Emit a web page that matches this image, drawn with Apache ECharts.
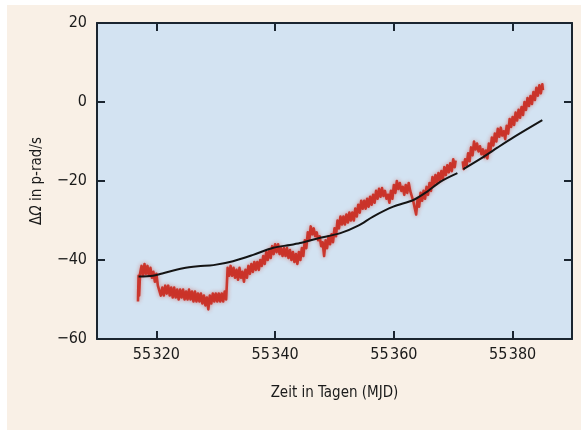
<!DOCTYPE html>
<html>
<head>
<meta charset="utf-8">
<script src="https://cdn.jsdelivr.net/npm/echarts@6/dist/echarts.min.js"></script>
<style>
html,body{margin:0;padding:0;background:#ffffff;}
#chart{width:581px;height:432px;}
</style>
</head>
<body>
<div id="chart"></div>
<script>
// ---- data ----
var xTicks = [55320, 55340, 55360, 55380];
var yTicks = [-60, -40, -20, 0, 20];
var xName = 'Zeit in Tagen (MJD)';
var yNameParts = ['Δ', 'Ω', ' in p-rad/s'];

// measured (noisy) rotation signal, [MJD, ΔΩ]
var redData = [
[55316.9,-50.5],[55317.0,-44],[55317.1,-49],[55317.25,-43.5],[55317.5,-41.5],[55317.75,-44],[55318.0,-41],[55318.25,-43.5],[55318.5,-41.5],[55318.75,-44],
[55319.0,-42],[55319.25,-44.5],[55319.5,-43],[55319.75,-45.5],[55320.0,-43.5],[55320.25,-46.5],[55320.5,-46],[55320.75,-49],[55321.0,-47],[55321.25,-49],
[55321.5,-46.5],[55321.75,-48.5],[55322.0,-46.5],[55322.25,-49],[55322.5,-47],[55322.75,-49.5],[55323.0,-47],[55323.25,-49.5],[55323.5,-47.5],[55323.75,-50],
[55324.0,-47.5],[55324.25,-49.5],[55324.5,-47.5],[55324.75,-50],[55325.0,-48],[55325.25,-50],[55325.5,-47.5],[55325.75,-50],[55326.0,-48],[55326.25,-50.5],
[55326.5,-48],[55326.75,-50.5],[55327.0,-48.5],[55327.25,-50.5],[55327.5,-48.5],[55327.75,-51],[55328.0,-49],[55328.25,-51.5],[55328.5,-49.5],[55328.75,-52.5],
[55329.0,-49],[55329.25,-51],[55329.5,-48.5],[55329.75,-50.5],[55330.0,-48.5],[55330.25,-50.5],[55330.5,-48.5],[55330.75,-50.5],[55331.0,-48.5],[55331.25,-50.5],
[55331.5,-48],[55331.75,-50],[55332.0,-42],[55332.25,-44],[55332.5,-41.5],[55332.75,-44],[55333.0,-42],[55333.25,-44.5],[55333.5,-42.5],[55333.75,-45],
[55334.0,-42],[55334.25,-44.5],[55334.5,-43],[55334.75,-45.5],[55335.0,-42.5],[55335.25,-44.5],[55335.5,-41.5],[55335.75,-43.5],[55336.0,-41],[55336.25,-43],
[55336.5,-40.5],[55336.75,-42.5],[55337.0,-40.5],[55337.25,-42.5],[55337.5,-40],[55337.75,-41.5],[55338.0,-39],[55338.25,-41],[55338.5,-38],[55338.75,-40],
[55339.0,-37.5],[55339.25,-39.5],[55339.5,-36.5],[55339.75,-38.5],[55340.0,-36],[55340.25,-38],[55340.5,-36],[55340.75,-38.5],[55341.0,-37],[55341.25,-39],
[55341.5,-37],[55341.75,-39],[55342.0,-37],[55342.25,-39.5],[55342.5,-37.5],[55342.75,-40],[55343.0,-38],[55343.25,-40.5],[55343.5,-38.5],[55343.75,-41],
[55344.0,-38],[55344.25,-40],[55344.5,-37],[55344.75,-39],[55345.0,-35],[55345.25,-37],[55345.5,-33],[55345.75,-35],[55346.0,-31.5],[55346.25,-33.5],
[55346.5,-32],[55346.75,-34],[55347.0,-33],[55347.25,-35],[55347.5,-34],[55347.75,-36.5],[55348.0,-35.5],[55348.25,-39],[55348.5,-35],[55348.75,-37],
[55349.0,-34],[55349.25,-36],[55349.5,-33.5],[55349.75,-35.5],[55350.0,-32],[55350.25,-34],[55350.5,-30],[55350.75,-32],[55351.0,-29],[55351.25,-31],
[55351.5,-29],[55351.75,-31],[55352.0,-28.5],[55352.25,-30.5],[55352.5,-28],[55352.75,-30],[55353.0,-28],[55353.25,-30],[55353.5,-27],[55353.75,-29],
[55354.0,-26],[55354.25,-28],[55354.5,-25],[55354.75,-27],[55355.0,-25],[55355.25,-27],[55355.5,-24.5],[55355.75,-26.5],[55356.0,-24],[55356.25,-26],
[55356.5,-23.5],[55356.75,-25.5],[55357.0,-22.5],[55357.25,-24.5],[55357.5,-22],[55357.75,-24],[55358.0,-21.8],[55358.25,-23.8],[55358.5,-22.5],[55358.75,-24.5],
[55359.0,-23.5],[55359.25,-25.5],[55359.5,-22.5],[55359.75,-24.5],[55360.0,-21],[55360.25,-23],[55360.5,-20],[55360.75,-22],[55361.0,-20.5],[55361.25,-22.5],
[55361.5,-21.5],[55361.75,-23.5],[55362.0,-21],[55362.25,-23],[55362.5,-20.5],[55362.75,-22.5],[55363.0,-22],[55363.25,-25],[55363.5,-25],[55363.75,-28.5],
[55364.0,-24.5],[55364.25,-26.5],[55364.5,-23],[55364.75,-25],[55365.0,-22.5],[55365.25,-24.5],[55365.5,-21.5],[55365.75,-23.5],[55366.0,-20.5],[55366.25,-22.5],
[55366.5,-19],[55366.75,-21],[55367.0,-18.5],[55367.25,-20.5],[55367.5,-18],[55367.75,-20],[55368.0,-17.5],[55368.25,-19.5],[55368.5,-16.5],[55368.75,-18.5],
[55369.0,-16],[55369.25,-17.8],[55369.5,-15.5],[55369.75,-17.5],[55370.0,-14.5],[55370.25,-16.5],[55370.4,-14.8],
[55371.0,'-'],
[55371.6,-15],[55371.75,-17],[55372.0,-14.5],[55372.25,-16],[55372.5,-13],[55372.75,-15],[55373.0,-11.5],[55373.25,-13.5],[55373.5,-10],[55373.75,-12],
[55374.0,-10.5],[55374.25,-12.5],[55374.5,-11.2],[55374.75,-13.2],[55375.0,-12],[55375.25,-14],[55375.5,-12.3],[55375.75,-14.3],[55376.0,-10.5],[55376.25,-12.5],
[55376.5,-9],[55376.75,-11],[55377.0,-8],[55377.25,-10],[55377.5,-6.8],[55377.75,-8.8],[55378.0,-6.5],[55378.25,-8.5],[55378.5,-7.4],[55378.75,-9.4],
[55379.0,-6],[55379.25,-8],[55379.5,-4.3],[55379.75,-6.3],[55380.0,-3.8],[55380.25,-5.8],[55380.5,-2.7],[55380.75,-4.7],[55381.0,-2],[55381.25,-4],
[55381.5,-1.3],[55381.75,-3.3],[55382.0,0],[55382.25,-2],[55382.5,1],[55382.75,-1],[55383.0,1.5],[55383.25,-0.5],[55383.5,2.5],[55383.75,0.5],
[55384.0,3.6],[55384.25,1.6],[55384.5,4.2],[55384.75,2.2],[55385.0,4.5],[55385.1,3]
];

// model curve, [MJD, ΔΩ]
var blackData = [
[55317.0,-44.2],[55319.4,-44.0],[55321.0,-43.4],[55324.5,-42.1],[55327.0,-41.6],[55329.6,-41.3],[55332.9,-40.3],[55336.3,-38.7],
[55339.7,-36.9],[55342.5,-36.2],[55344.2,-35.7],[55347.0,-34.6],[55351.0,-33.2],[55354.0,-31.3],[55356.5,-29.0],[55359.9,-26.5],
[55363.3,-24.8],[55365.5,-22.8],[55367.8,-20.2],[55370.7,-18.0],[55371.2,'-'],[55371.7,-17.0],[55375.1,-13.9],[55377.5,-11.5],
[55380.2,-8.9],[55385.0,-4.6]
];

var chart = echarts.init(document.getElementById('chart'), null, {renderer: 'canvas'});
var FONT = "'Liberation Sans Narrow','DejaVu Sans Condensed','Noto Sans',sans-serif";
var AX = '#1a2530';
function fmtX(v){ var s = String(v); return s.slice(0,2) + '\u200A' + s.slice(2); }
function fmtY(v){ return v < 0 ? '\u2212' + Math.abs(v) : String(v); }

var option = {
  backgroundColor: 'transparent',
  animation: false,
  graphic: [{
    type: 'rect', z: -10, silent: true,
    shape: {x: 7, y: 5, width: 574, height: 425},
    style: {fill: '#f9f0e6'}
  }],
  grid: {
    left: 97, right: 9, top: 23, bottom: 93,
    show: true, backgroundColor: '#d3e3f2', borderWidth: 0
  },
  xAxis: [{
    type: 'value', min: 55310, max: 55390, position: 'bottom',
    name: xName, nameLocation: 'middle', nameGap: 47,
    nameTextStyle: {fontFamily: FONT, fontSize: 15, color: '#1a1a1a'},
    axisLine: {show: true, onZero: false, lineStyle: {color: AX, width: 2}},
    axisTick: {show: true, inside: true, length: 8, lineStyle: {color: AX, width: 2}, customValues: xTicks},
    axisLabel: {show: true, customValues: xTicks, formatter: fmtX, fontFamily: FONT, fontSize: 16, color: '#1a1a1a', margin: 8},
    splitLine: {show: false}
  }, {
    type: 'value', min: 55310, max: 55390, position: 'top',
    axisLine: {show: true, onZero: false, lineStyle: {color: AX, width: 2}},
    axisTick: {show: true, inside: true, length: 8, lineStyle: {color: AX, width: 2}, customValues: xTicks},
    axisLabel: {show: false},
    splitLine: {show: false}
  }],
  yAxis: [{
    type: 'value', min: -60, max: 20, interval: 20, position: 'left',
    name: '{d|' + yNameParts[0] + '}{o|' + yNameParts[1] + '}{d|' + yNameParts[2] + '}',
    nameLocation: 'middle', nameGap: 52, nameRotate: 90,
    nameTextStyle: {
      fontFamily: FONT, fontSize: 15, color: '#1a1a1a',
      rich: {
        d: {fontFamily: FONT, fontSize: 15, color: '#1a1a1a'},
        o: {fontFamily: FONT, fontSize: 15, color: '#1a1a1a', fontStyle: 'italic'}
      }
    },
    axisLine: {show: true, onZero: false, lineStyle: {color: AX, width: 2}},
    axisTick: {show: true, inside: true, length: 8, lineStyle: {color: AX, width: 2}},
    axisLabel: {show: true, formatter: fmtY, fontFamily: FONT, fontSize: 16, color: '#1a1a1a', margin: 10,
      customValues: yTicks},
    splitLine: {show: false}
  }, {
    type: 'value', min: -60, max: 20, interval: 20, position: 'right',
    axisLine: {show: true, onZero: false, lineStyle: {color: AX, width: 2}},
    axisTick: {show: true, inside: true, length: 8, lineStyle: {color: AX, width: 2}},
    axisLabel: {show: false},
    splitLine: {show: false}
  }],
  series: [{
    type: 'line', name: 'Messung', data: redData,
    xAxisIndex: 0, yAxisIndex: 0,
    showSymbol: false, connectNulls: false, z: 2,
    lineStyle: {color: '#c8261a', width: 2.6, opacity: 0.88, join: 'round',
      shadowBlur: 4, shadowColor: 'rgba(205,45,30,0.55)'}
  }, {
    type: 'line', name: 'Modell', data: blackData,
    xAxisIndex: 0, yAxisIndex: 0,
    showSymbol: false, connectNulls: false, smooth: 0.3, z: 3,
    lineStyle: {color: '#141414', width: 2}
  }]
};
chart.setOption(option);
</script>
</body>
</html>
